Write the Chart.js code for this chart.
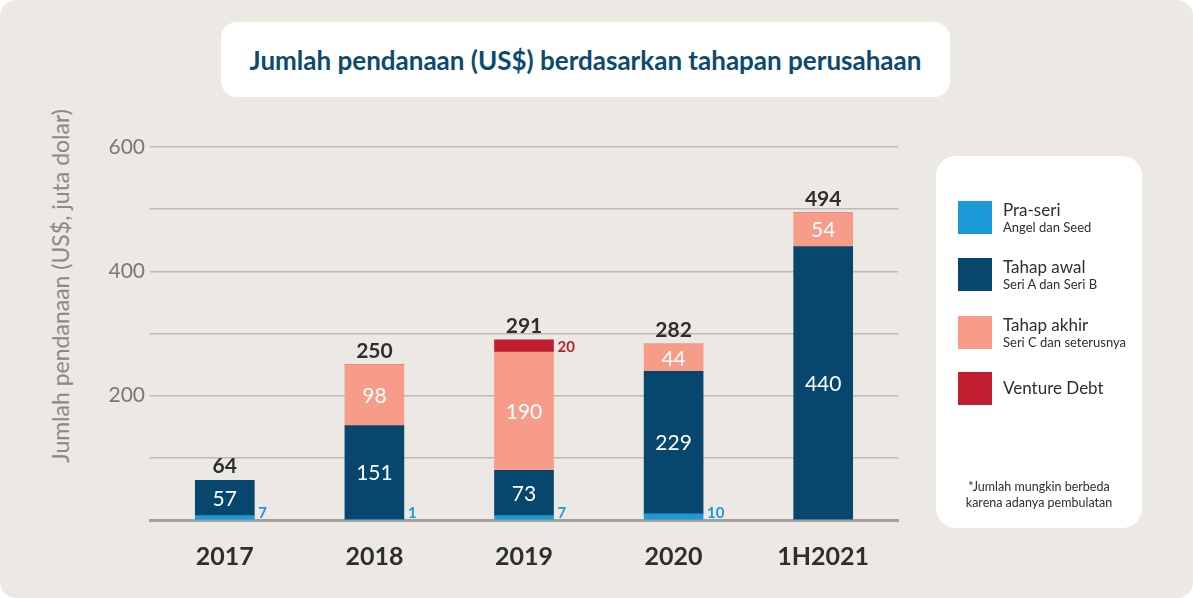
<!DOCTYPE html>
<html>
<head>
<meta charset="utf-8">
<script src="https://cdn.jsdelivr.net/npm/chart.js@4.4.1/dist/chart.umd.min.js"></script>
<style>
  body { margin: 0; background: #fff; font-family: Lato, sans-serif; }
  #wrap { position: relative; width: 1193px; height: 598px; background: #ece9e5; border-radius: 16px; overflow: hidden; }
  #chart { position: absolute; left: 0; top: 0; }
  .panel { position: absolute; background: #fff; }
  #title-box { left: 221px; top: 22px; width: 729px; height: 75px; border-radius: 16px; display: flex; align-items: center; justify-content: center; }
  #title-box h1 { margin: 0; font: 700 26px Lato, sans-serif; color: #0c4a6f; }
  #y-title { position: absolute; left: 60px; top: 286px; transform: translate(-50%, -50%) rotate(-90deg); white-space: nowrap; font: 400 23px Lato, sans-serif; color: #8b8886; }
  #legend-box { left: 936px; top: 156px; width: 206px; height: 372px; border-radius: 20px; }
  .item { position: absolute; left: 22px; height: 33px; width: 180px; }
  .swatch { position: absolute; left: 0; top: 0; width: 34px; height: 33px; }
  .lbl { position: absolute; left: 45px; top: 0; white-space: nowrap; color: #2e2e2e; }
  .lbl .main { font: 400 17px/18px Lato, sans-serif; }
  .lbl .sub { font: 400 13px/16px Lato, sans-serif; }
  .lbl.single { top: 7px; }
  #note { position: absolute; left: 0; width: 206px; top: 323px; text-align: center; font: 400 12.5px/16px Lato, sans-serif; color: #2e2e2e; }
</style>
</head>
<body>
<div id="wrap">
  <div class="panel" id="title-box"><h1>Jumlah pendanaan (US$) berdasarkan tahapan perusahaan</h1></div>
  <div id="y-title">Jumlah pendanaan (US$, juta dolar)</div>
  <canvas id="chart" width="1193" height="598"></canvas>
  <div class="panel" id="legend-box">
    <div id="note">*Jumlah mungkin berbeda<br>karena adanya pembulatan</div>
  </div>
</div>
<script>
const categories = ['2017', '2018', '2019', '2020', '1H2021'];
const praSeri = [7, 1, 7, 10, 0];
const tahapAwal = [57, 151, 73, 229, 440];
const tahapAkhir = [0, 98, 190, 44, 54];
const ventureDebt = [0, 0, 20, 0, 0];
const totals = [64, 250, 291, 282, 494];

const seriesNames = ['Pra-seri', 'Tahap awal', 'Tahap akhir', 'Venture Debt'];
const seriesNotes = ['Angel dan Seed', 'Seri A dan Seri B', 'Seri C dan seterusnya', ''];
const seriesColors = ['#1b9ad7', '#07476e', '#f69c89', '#c11f30'];

// legend, built from the series lists
const legendBox = document.getElementById('legend-box');
const legendTops = [45, 102, 160, 216];
seriesNames.forEach((name, i) => {
  const item = document.createElement('div');
  item.className = 'item';
  item.style.top = legendTops[i] + 'px';
  const sub = seriesNotes[i] ? '<div class="sub">' + seriesNotes[i] + '</div>' : '';
  item.innerHTML = '<div class="swatch" style="background:' + seriesColors[i] + '"></div>' +
    '<div class="lbl' + (sub ? '' : ' single') + '"><div class="main">' + name + '</div>' + sub + '</div>';
  legendBox.appendChild(item);
});

const dataLabels = {
  id: 'dataLabels',
  afterDatasetsDraw(chart) {
    const ctx = chart.ctx;
    const metas = [0, 1, 2, 3].map(d => chart.getDatasetMeta(d).data);
    const series = [praSeri, tahapAwal, tahapAkhir, ventureDebt];
    ctx.save();
    categories.forEach((cat, i) => {
      // values inside the bar
      ctx.font = '400 21px Lato';
      ctx.fillStyle = '#fff';
      ctx.textAlign = 'center';
      ctx.textBaseline = 'middle';
      [1, 2].forEach(d => {
        if (series[d][i] > 0) {
          const el = metas[d][i];
          ctx.fillText(series[d][i], el.x, (el.y + el.base) / 2 + 1);
        }
      });
      // small values beside the bar
      ctx.font = '700 15px Lato';
      ctx.textAlign = 'left';
      if (praSeri[i] > 0) {
        const el = metas[0][i];
        ctx.fillStyle = seriesColors[0];
        ctx.textBaseline = 'alphabetic';
        ctx.fillText(praSeri[i], el.x + el.width / 2 + 4, el.base - 1);
      }
      if (ventureDebt[i] > 0) {
        const el = metas[3][i];
        ctx.fillStyle = seriesColors[3];
        ctx.textBaseline = 'middle';
        ctx.fillText(ventureDebt[i], el.x + el.width / 2 + 4, (el.y + el.base) / 2 + 1);
      }
      // total on top
      let top = metas[0][i].y;
      [1, 2, 3].forEach(d => { if (series[d][i] > 0) top = metas[d][i].y; });
      ctx.font = '700 21px Lato';
      ctx.fillStyle = '#2e2e2e';
      ctx.textAlign = 'center';
      ctx.textBaseline = 'alphabetic';
      ctx.fillText(totals[i], metas[0][i].x, top - 7);
    });
    ctx.restore();
  }
};

new Chart(document.getElementById('chart'), {
  type: 'bar',
  data: {
    labels: categories,
    datasets: [praSeri, tahapAwal, tahapAkhir, ventureDebt].map((values, i) => ({
      label: seriesNames[i],
      data: values,
      backgroundColor: seriesColors[i],
      borderWidth: 0,
      barThickness: 59
    }))
  },
  options: {
    responsive: false,
    animation: false,
    layout: { padding: { left: 0, right: 295, top: 147, bottom: 0 } },
    plugins: {
      legend: { display: false },
      tooltip: { enabled: false }
    },
    scales: {
      x: {
        stacked: true,
        afterFit: scale => { scale.height = 78; },
        grid: { display: false },
        border: { color: '#a3a09d', width: 3 },
        ticks: { padding: 14, color: '#2e2e2e', font: { family: 'Lato', size: 25, weight: '700' } }
      },
      y: {
        stacked: true,
        min: 0,
        max: 600,
        afterFit: scale => { scale.width = 150; },
        border: { display: false },
        grid: {
          drawTicks: false,
          lineWidth: 1.5,
          color: c => c.tick.value === 0 ? 'rgba(0,0,0,0)' : '#bcb9b6'
        },
        ticks: {
          stepSize: 100,
          padding: 5,
          color: '#7a7876',
          font: { family: 'Lato', size: 21 },
          callback: v => v % 200 === 0 && v > 0 ? v : ''
        }
      }
    }
  },
  plugins: [dataLabels]
});
</script>
</body>
</html>
